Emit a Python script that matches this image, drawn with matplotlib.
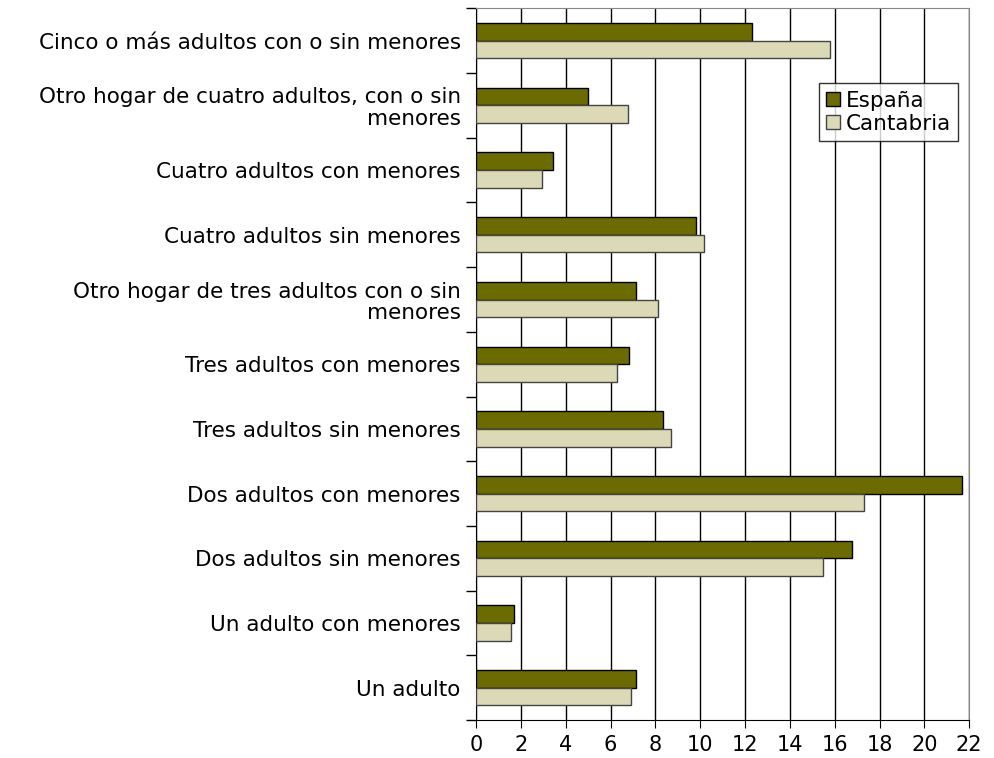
import numpy as np
import matplotlib.pyplot as plt

categorias = [
    "Un adulto",
    "Un adulto con menores",
    "Dos adultos sin menores",
    "Dos adultos con menores",
    "Tres adultos sin menores",
    "Tres adultos con menores",
    "Otro hogar de tres adultos con o sin\nmenores",
    "Cuatro adultos sin menores",
    "Cuatro adultos con menores",
    "Otro hogar de cuatro adultos, con o sin\nmenores",
    "Cinco o más adultos con o sin menores",
]
espana = [7.13, 1.70, 16.79, 21.7, 8.32, 6.81, 7.13, 9.8, 3.41, 4.98, 12.32]
cantabria = [6.9, 1.56, 15.5, 17.29, 8.68, 6.27, 8.1, 10.16, 2.92, 6.77, 15.8]

plt.rcParams["font.family"] = "DejaVu Sans"

fig = plt.figure(figsize=(9.94, 7.58), dpi=100)
ax = fig.add_axes([0.479, 0.050, 0.496, 0.939])

y = np.arange(len(categorias))
h = 0.273

ax.barh(y + h / 2, espana, h, color="#6b6b00", edgecolor="black",
        linewidth=1, label="España", zorder=3)
ax.barh(y - h / 2, cantabria, h, color="#dcdab6", edgecolor="#444444",
        linewidth=1, label="Cantabria", zorder=3)

ax.set_xlim(0, 22)
ax.set_ylim(-0.5, len(categorias) - 0.5)
ax.set_xticks(np.arange(0, 23, 2))
ax.grid(axis="x", color="black", linewidth=1, zorder=0)

ax.set_yticks(y)
ax.set_yticklabels(categorias, fontsize=15.5, ha="right", linespacing=1.1)
ax.tick_params(axis="y", length=0, pad=11)
ax.set_yticks(np.arange(-0.5, len(categorias), 1), minor=True)
ax.tick_params(axis="y", which="minor", length=7, width=1)
ax.tick_params(axis="x", length=6, labelsize=15, pad=5)

for side in ["top", "right"]:
    ax.spines[side].set_color("#888888")

leg = ax.legend(loc="upper right", bbox_to_anchor=(0.978, 0.895),
                fontsize=15.5, frameon=True, fancybox=False,
                handlelength=0.65, handleheight=0.65, handletextpad=0.25,
                borderpad=0.35, labelspacing=0.15, borderaxespad=0)
leg.get_frame().set_edgecolor("black")
leg.get_frame().set_linewidth(1)

fig.savefig("out.png", dpi=100)
